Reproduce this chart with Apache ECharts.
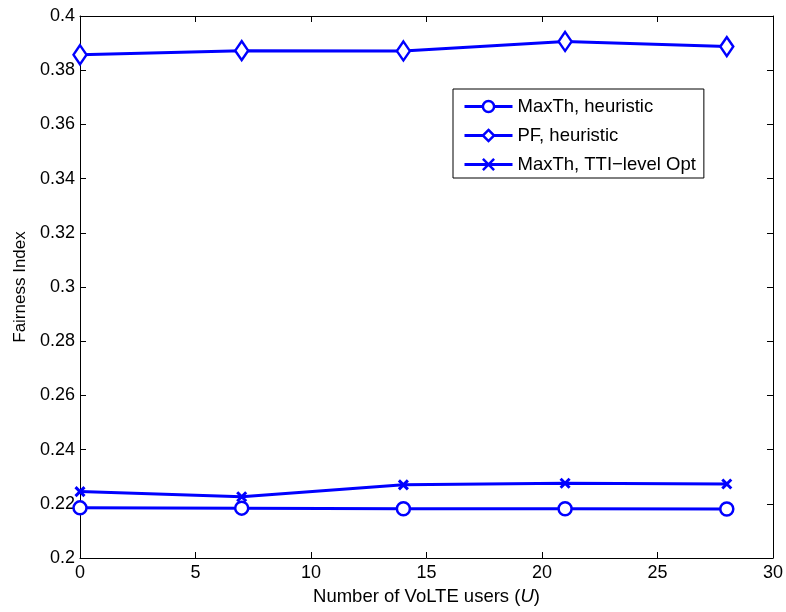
<!DOCTYPE html>
<html><head><meta charset="utf-8">
<script src="https://cdn.jsdelivr.net/npm/echarts@6/dist/echarts.min.js"></script>
<style>html,body{margin:0;padding:0;background:#fff}#c{width:786px;height:612px}</style>
</head><body><div id="c"></div>
<script>
const xValues = [0, 7, 14, 21, 28];
const maxThHeuristic = [0.2185, 0.2184, 0.2182, 0.2182, 0.2181];
const pfHeuristic = [0.3857, 0.3872, 0.3871, 0.3906, 0.3887];
const maxThTTI = [0.2245, 0.2226, 0.2270, 0.2276, 0.2273];
const seriesNames = ['MaxTh, heuristic', 'PF, heuristic', 'MaxTh, TTI\u2212level Opt'];

const blue = '#0000FF';
const font = 'Liberation Sans, Arial, sans-serif';
const pair = arr => xValues.map((x, i) => [x, arr[i]]);
const crossPath = 'path://M0 0L10 10M10 0L0 10';

const chart = echarts.init(document.getElementById('c'));
const axisCommon = {
  axisLine: { show: true, onZero: false, lineStyle: { color: '#000', width: 1 } },
  splitLine: { show: false },
  axisTick: { inside: true, length: 6, lineStyle: { color: '#000' } },
};
chart.setOption({
  animation: false,
  backgroundColor: '#fff',
  grid: { left: 80, right: 13, top: 16, bottom: 54, containLabel: false },
  xAxis: [
    Object.assign({}, axisCommon, {
      type: 'value', min: 0, max: 30, interval: 5,
      name: 'Number of VoLTE users ({i|U})', nameLocation: 'middle', nameGap: 29,
      nameTextStyle: { fontFamily: font, fontSize: 18.5, color: '#000', rich: { i: { fontStyle: 'italic', fontFamily: font, fontSize: 18.5 } } },
      axisLabel: { fontFamily: font, fontSize: 18, color: '#000', margin: 6 }
    }),
    Object.assign({}, axisCommon, {
      type: 'value', min: 0, max: 30, interval: 5, position: 'top',
      axisLabel: { show: false }
    })
  ],
  yAxis: [
    Object.assign({}, axisCommon, {
      type: 'value', min: 0.2, max: 0.4, interval: 0.02,
      name: 'Fairness Index', nameLocation: 'middle', nameGap: 48,
      nameTextStyle: { fontFamily: font, fontSize: 17, color: '#000' },
      axisLabel: { fontFamily: font, fontSize: 18, color: '#000', margin: 5,
        formatter: v => String(parseFloat(v.toFixed(2))) }
    }),
    Object.assign({}, axisCommon, {
      type: 'value', min: 0.2, max: 0.4, interval: 0.02, position: 'right',
      axisLabel: { show: false }
    })
  ],
  legend: {
    orient: 'vertical', left: 453, top: 89,
    padding: [8, 8, 4, 10], itemGap: 10,
    borderColor: '#000', borderWidth: 1, backgroundColor: '#fff',
    itemWidth: 48, itemHeight: 14,
    lineStyle: { width: 3 },
    itemStyle: { borderWidth: 2.5 },
    textStyle: { fontFamily: font, fontSize: 18.5, color: '#000', lineHeight: 18 },
    data: seriesNames
  },
  series: [
    { name: seriesNames[0], type: 'line', data: pair(maxThHeuristic),
      symbol: 'circle', symbolSize: 13,
      lineStyle: { color: blue, width: 3 },
      itemStyle: { color: '#fff', borderColor: blue, borderWidth: 2.5 } },
    { name: seriesNames[1], type: 'line', data: pair(pfHeuristic),
      symbol: 'diamond', symbolSize: [13, 19],
      lineStyle: { color: blue, width: 3 },
      itemStyle: { color: '#fff', borderColor: blue, borderWidth: 2.5 } },
    { name: seriesNames[2], type: 'line', data: pair(maxThTTI),
      symbol: crossPath, symbolSize: 9,
      lineStyle: { color: blue, width: 3 },
      itemStyle: { color: blue, borderColor: blue, borderWidth: 3 } }
  ]
});
</script></body></html>
